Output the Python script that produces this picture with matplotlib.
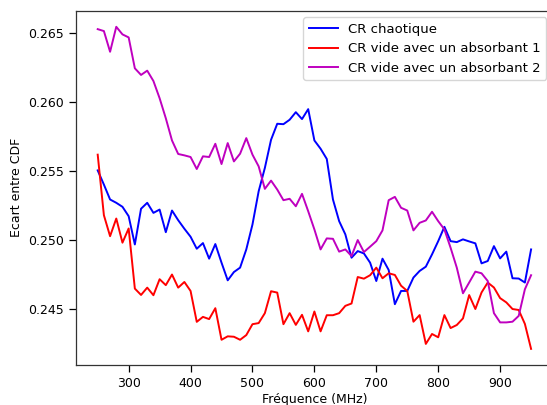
import matplotlib
matplotlib.use("Agg")
import matplotlib.pyplot as plt
import matplotlib.ticker as mticker

# Frequency axis (MHz)
freq = list(range(250, 960, 10))

cr_chaotique = [
    0.25507, 0.25404, 0.25296, 0.25272, 0.25243, 0.25175, 0.24970, 0.25229,
    0.25272, 0.25199, 0.25223, 0.25059, 0.25216, 0.25146, 0.25084, 0.25026,
    0.24939, 0.24980, 0.24867, 0.24973, 0.24838, 0.24710, 0.24770, 0.24802,
    0.24934, 0.25115, 0.25356, 0.25525, 0.25729, 0.25845, 0.25842, 0.25874,
    0.25929, 0.25879, 0.25951, 0.25724, 0.25664, 0.25590, 0.25296, 0.25139,
    0.25043, 0.24874, 0.24922, 0.24905, 0.24838, 0.24705, 0.24867, 0.24785,
    0.24537, 0.24633, 0.24633, 0.24730, 0.24778, 0.24809, 0.24898, 0.24994,
    0.25098, 0.24994, 0.24987, 0.25007, 0.24992, 0.24978, 0.24833, 0.24850,
    0.24958, 0.24869, 0.24918, 0.24725, 0.24723, 0.24694, 0.24934,
]

cr_absorbant_1 = [
    0.25621, 0.25182, 0.25030, 0.25158, 0.24983, 0.25086, 0.24650, 0.24604,
    0.24657, 0.24602, 0.24718, 0.24675, 0.24752, 0.24657, 0.24698, 0.24633,
    0.24409, 0.24445, 0.24429, 0.24508, 0.24279, 0.24304, 0.24301, 0.24279,
    0.24313, 0.24392, 0.24400, 0.24472, 0.24631, 0.24621, 0.24392, 0.24472,
    0.24387, 0.24460, 0.24340, 0.24484, 0.24340, 0.24457, 0.24457, 0.24472,
    0.24525, 0.24542, 0.24734, 0.24722, 0.24747, 0.24802, 0.24725, 0.24761,
    0.24749, 0.24671, 0.24633, 0.24410, 0.24458, 0.24249, 0.24321, 0.24297,
    0.24458, 0.24364, 0.24386, 0.24434, 0.24603, 0.24502, 0.24622, 0.24694,
    0.24658, 0.24581, 0.24550, 0.24502, 0.24495, 0.24394, 0.24213,
]

cr_absorbant_2 = [
    0.26531, 0.26517, 0.26367, 0.26548, 0.26493, 0.26471, 0.26247, 0.26199,
    0.26230, 0.26155, 0.26030, 0.25885, 0.25724, 0.25626, 0.25616, 0.25604,
    0.25517, 0.25609, 0.25604, 0.25700, 0.25553, 0.25705, 0.25572, 0.25628,
    0.25741, 0.25621, 0.25536, 0.25373, 0.25433, 0.25368, 0.25291, 0.25301,
    0.25247, 0.25337, 0.25211, 0.25079, 0.24934, 0.25014, 0.25011, 0.24918,
    0.24934, 0.24886, 0.25002, 0.24915, 0.24954, 0.24994, 0.25072, 0.25291,
    0.25315, 0.25236, 0.25216, 0.25072, 0.25127, 0.25144, 0.25207, 0.25139,
    0.25079, 0.24946, 0.24802, 0.24616, 0.24694, 0.24773, 0.24761, 0.24705,
    0.24472, 0.24405, 0.24405, 0.24410, 0.24452, 0.24645, 0.24747,
]

labels = ["CR chaotique", "CR vide avec un absorbant 1", "CR vide avec un absorbant 2"]
colors = ["#0000ff", "#ff0000", "#bf00bf"]

plt.rcParams["font.family"] = ["DejaVu Sans"]
plt.rcParams["font.size"] = 9

fig = plt.figure(figsize=(5.47, 4.05), dpi=100)
ax = fig.add_axes([0.139, 0.0988, 0.8715, 0.8748])

for series, lab, col in zip([cr_chaotique, cr_absorbant_1, cr_absorbant_2], labels, colors):
    ax.plot(freq, series, color=col, linewidth=1.4, label=lab)

ax.set_xticks([300, 400, 500, 600, 700, 800, 900])
ax.set_yticks([0.245, 0.250, 0.255, 0.260, 0.265])
ax.yaxis.set_major_formatter(mticker.FormatStrFormatter("%.3f"))
ax.tick_params(length=5, width=0.9, labelsize=9)
for sp in ax.spines.values():
    sp.set_linewidth(0.9)
    sp.set_color("#333333")

ax.set_xlabel("Fréquence (MHz)", fontsize=9, labelpad=2)
ax.set_ylabel("Ecart entre CDF", fontsize=9)

ax.legend(loc="upper right", fontsize=9.5, handlelength=2.2, framealpha=0.8,
          edgecolor="#cccccc", borderaxespad=0.5)

fig.savefig("out.png", dpi=100)
